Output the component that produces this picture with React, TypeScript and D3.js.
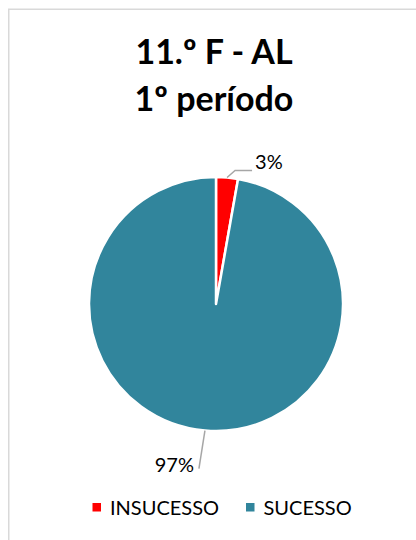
import React from "react";
import * as d3 from "d3";

const titleLines = ["11.º F - AL", "1º período"];
const categories = ["INSUCESSO", "SUCESSO"];
const values = [1, 35];
const colors = ["#FF0000", "#31859C"];
const percentLabels = ["3%", "97%"];

const W = 416;
const H = 540;
const cx = 216;
const cy = 304;
const R = 127;
const FONT = "Lato, 'Open Sans', 'DejaVu Sans', sans-serif";

export default function App() {
  const pie = d3
    .pie<number>()
    .sort(null)
    .startAngle(0)
    .endAngle(2 * Math.PI)
    .value((d) => d);
  const arcs = pie(values);
  const arc = d3.arc<d3.PieArcDatum<number>>().innerRadius(0).outerRadius(R);

  const pt = (a: number, r: number) => [cx + r * Math.sin(a), cy - r * Math.cos(a)];

  const labels = arcs.map((a, i) => {
    const mid = (a.startAngle + a.endAngle) / 2;
    const p0 = pt(mid, R);
    if (i === 0) {
      const p1 = [p0[0] + 8, p0[1] - 7];
      const p2 = [p1[0] + 17, p1[1]];
      return { pts: [p0, p1, p2], tx: p2[0] + 3, ty: p2[1] - 1.5, anchor: "start" };
    }
    const p1 = [p0[0] - 6, p0[1] + 38];
    return { pts: [p0, p1], tx: p1[0] - 5, ty: p1[1] + 3, anchor: "end" };
  });

  const legendX = [92.5, 246];

  return (
    <div style={{ position: "fixed", left: 0, top: 0 }}>
      <svg width={W} height={H} style={{ display: "block", background: "#fff" }}>
        <rect x={8.75} y={9.25} width={W + 20} height={H + 20} fill="#fff" stroke="#D9D9D9" strokeWidth={1.5} />
        {titleLines.map((t, i) => (
          <text
            key={t}
            x={214}
            y={64 + i * 47}
            textAnchor="middle"
            fontFamily={FONT}
            fontWeight="bold"
            fontSize={34}
            fill="#000"
          >
            {t}
          </text>
        ))}
        <g>
          {arcs.map((a, i) => (
            <path
              key={i}
              d={arc(a) as string}
              transform={`translate(${cx},${cy})`}
              fill={colors[i]}
              stroke="#fff"
              strokeWidth={2.5}
              strokeLinejoin="round"
            />
          ))}
        </g>
        {labels.map((l, i) => (
          <g key={i}>
            <polyline
              points={l.pts.map((p) => p.join(",")).join(" ")}
              fill="none"
              stroke="#A6A6A6"
              strokeWidth={1.5}
            />
            <text
              x={l.tx}
              y={l.ty}
              textAnchor={l.anchor as any}
              fontFamily={FONT}
              fontSize={20}
              fill="#000"
            >
              {percentLabels[i]}
            </text>
          </g>
        ))}
        {categories.map((c, i) => (
          <g key={c}>
            <rect x={legendX[i]} y={503} width={8.5} height={8.5} fill={colors[i]} />
            <text x={legendX[i] + 17.5} y={514.5} fontFamily={FONT} fontSize={20} fill="#000">
              {c}
            </text>
          </g>
        ))}
      </svg>
    </div>
  );
}
